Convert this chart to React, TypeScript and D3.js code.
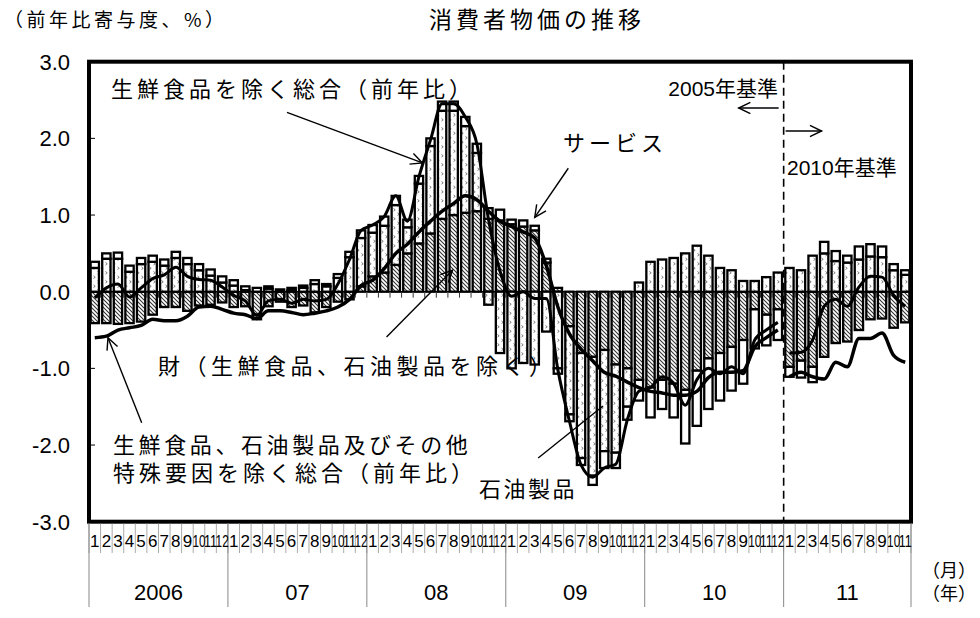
import React from 'react';
import * as d3 from 'd3';

// ---------- data (contributions to y/y change, %) ----------
const years = ['2006', '07', '08', '09', '10', '11'];
const monthsPerYear = [12, 12, 12, 12, 12, 11];
const yTicks = [3, 2, 1, 0, -1, -2, -3];

// 財（生鮮食品、石油製品を除く） hatched
const goods = [
  -0.41, -0.41, -0.42, -0.41, -0.39, -0.3, -0.2, -0.2, -0.25, -0.18, -0.17, -0.14,
  -0.2, -0.19, -0.3, -0.19, -0.13, -0.2, -0.18, -0.27, -0.2, -0.13, -0.1, 0.07,
  0.2, 0.25, 0.35, 0.5, 0.63, 0.76, 0.95, 1.0, 1.03, 1.05, 0.95, 0.93,
  0.88, 0.85, 0.8, 0.38, 0.05, -0.45, -0.8, -0.85, -0.76, -0.95, -1.0, -1.15,
  -1.25, -1.15, -1.2, -1.28, -1.03, -0.87, -0.8, -0.72, -0.63, -0.23, -0.3, -0.23,
  -0.98, -0.9, -0.98, -0.85, -0.67, -0.65, -0.5, -0.36, -0.35, -0.47, -0.4,
];
// 石油製品 dotted
const petroleum = [
  0.31, 0.43, 0.43, 0.26, 0.36, 0.39, 0.34, 0.44, 0.36, 0.28, 0.21, 0.12,
  0.08, 0.02, -0.06, 0.04, 0.0, 0.02, 0.05, 0.1, 0.07, 0.18, 0.45, 0.63,
  0.57, 0.61, 0.78, 0.34, 0.78, 1.14, 1.41, 1.36, 1.13, 0.76, -0.17, -0.8,
  -1.0, -0.93, -0.95, -0.52, -1.0, -1.15, -1.37, -1.55, -1.32, -1.15, -0.5, 0.12,
  0.39, 0.42, 0.44, 0.5, 0.6, 0.47, 0.31, 0.28, 0.14, 0.14, 0.19, 0.25,
  0.31, 0.28, 0.47, 0.5, 0.4, 0.38, 0.42, 0.46, 0.45, 0.28, 0.22,
];
// サービス white
const services = [
  0.08, 0.07, 0.08, 0.08, 0.08, 0.08, 0.08, 0.08, 0.08, 0.08, 0.08, 0.08,
  0.07, 0.05, 0.05, 0.03, 0.03, 0.03, 0.03, 0.05, 0.03, 0.05, 0.07, 0.1,
  0.1, 0.12, 0.12, 0.1, 0.1, 0.1, 0.12, 0.12, 0.12, 0.12, 0.14, 0.14,
  0.06, 0.08, 0.06, 0.05, -0.07, -0.09, -0.09, -0.12, -0.22, -0.2, -0.17, -0.27,
  -0.39, -0.38, -0.44, -0.7, -0.72, -0.66, -0.62, -0.57, -0.57, -0.51, -0.4, -0.4,
  -0.13, -0.22, -0.2, 0.15, 0.13, 0.09, 0.17, 0.16, 0.14, 0.08, 0.06,
];
// 生鮮食品を除く総合（前年比）
const coreCPI = [
  -0.08, 0.05, 0.1, -0.07, 0.05, 0.17, 0.22, 0.32, 0.2, 0.16, 0.15, 0.06,
  -0.05, -0.12, -0.31, -0.12, -0.1, -0.15, -0.1, -0.12, -0.1, 0.1, 0.42, 0.8,
  0.87, 0.98, 1.25, 0.92, 1.5, 1.98, 2.45, 2.45, 2.28, 1.93, 0.95, 0.27,
  -0.06, 0.0, -0.09, -0.09, -1.02, -1.69, -2.26, -2.42, -2.3, -2.25, -1.67, -1.3,
  -1.25, -1.11, -1.2, -1.48, -1.15, -1.0, -1.07, -0.98, -1.07, -0.63, -0.5, -0.4,
  -0.8, -0.79, -0.63, -0.19, -0.1, -0.19, 0.06, 0.2, 0.19, -0.05, -0.19,
];
// 生鮮食品、石油製品及びその他特殊要因を除く総合（前年比）
const coreCore = [
  -0.6, -0.58, -0.5, -0.47, -0.44, -0.36, -0.38, -0.38, -0.32, -0.2, -0.19, -0.23,
  -0.28, -0.3, -0.35, -0.25, -0.25, -0.27, -0.3, -0.28, -0.25, -0.2, -0.1, 0.08,
  0.15, 0.3, 0.5, 0.62, 0.78, 0.92, 1.05, 1.15, 1.25, 1.2, 1.05, 0.92,
  0.85, 0.78, 0.7, 0.34, -0.2, -0.55, -0.75, -0.9, -1.05, -1.1, -1.18, -1.25,
  -1.3, -1.32, -1.35, -1.35, -1.3, -1.12, -1.05, -1.05, -1.03, -0.72, -0.6, -0.5,
  -1.11, -1.05, -1.11, -1.14, -0.92, -0.98, -0.61, -0.61, -0.54, -0.83, -0.92,
];
const breakIndex = 60; // 2010年基準 starts at 2011/1

const JP = '"Noto Sans CJK JP", "Noto Sans", sans-serif';
const NUM = '"Liberation Sans", Arial, "Noto Sans CJK JP", sans-serif';

export default function App() {
  const W = 980, H = 618;
  const x0 = 89, x1 = 911, yTop = 61.7, yBot = 521.7;
  const n = goods.length;
  const idx = d3.range(n);
  const x = d3.scaleBand<number>().domain(idx).range([x0, x1]).paddingInner(0.28).paddingOuter(0.14);
  const step = (x1 - x0) / n;
  const xc = (i: number) => x0 + step * (i + 0.5);
  const y = d3.scaleLinear().domain([-3, 3]).range([yBot, yTop]);
  const fmt = (t: number) => d3.format('.1f')(t).replace('\u2212', '-');

  const table = idx.map((i) => ({ i, goods: goods[i], petroleum: petroleum[i], services: services[i] }));
  const stack = d3.stack<any>().keys(['goods', 'petroleum', 'services']).offset(d3.stackOffsetDiverging);
  const series = stack(table);
  const fills: Record<string, string> = { goods: 'url(#hatch)', petroleum: 'url(#dots)', services: '#ffffff' };

  const lineGen = d3.line<[number, number]>().x((d) => xc(d[0])).y((d) => y(d[1])).curve(d3.curveMonotoneX);
  const seg = (arr: number[], a: number, b: number) => lineGen(d3.range(a, b).map((i) => [i, arr[i]] as [number, number])) || '';

  const bounds = d3.range(n + 1);
  const yearStarts: number[] = [];
  let acc = 0;
  monthsPerYear.forEach((m) => { yearStarts.push(acc); acc += m; });
  yearStarts.push(acc);

  const monthLabels: { i: number; t: string }[] = [];
  monthsPerYear.forEach((m, yi) => {
    for (let k = 0; k < m; k++) monthLabels.push({ i: yearStarts[yi] + k, t: String(k + 1) });
  });

  const P = (i: number, v: number) => [xc(i), y(v)];
  const arrows = [
    { from: P(16.6, 2.34), to: P(28.3, 1.68), head: true },
    { from: P(40.9, 1.61), to: P(38.0, 0.97), head: true },
    { from: P(25.2, -0.59), to: P(30.9, 0.28), head: true },
    { from: P(4.05, -1.71), to: P(1.14, -0.6), head: true },
    { from: P(38.3, -2.17), to: P(43.9, -1.49), head: false },
  ];
  const headPath = (from: number[], to: number[]) => {
    const ang = Math.atan2(to[1] - from[1], to[0] - from[0]);
    const L = 13, a = 0.45;
    const p1 = [to[0] - L * Math.cos(ang - a), to[1] - L * Math.sin(ang - a)];
    const p2 = [to[0] - L * Math.cos(ang + a), to[1] - L * Math.sin(ang + a)];
    return `M${p1[0]},${p1[1]} L${to[0]},${to[1]} L${p2[0]},${p2[1]}`;
  };

  const xBreak = x0 + step * breakIndex;

  return (
    <svg width={W} height={H} style={{ position: 'absolute', left: 0, top: 0, background: '#fff' }}>
      <defs>
        <pattern id="hatch" width="4" height="4" patternUnits="userSpaceOnUse">
          <rect width="4" height="4" fill="#fff" />
          <path d="M-1,-1 L5,5 M-1,3 L1,5 M3,-1 L5,1" stroke="#333" strokeWidth="1.1" />
        </pattern>
        <pattern id="dots" width="8" height="9" patternUnits="userSpaceOnUse">
          <rect width="8" height="9" fill="#fff" />
          <path d="M1.5,1.5 L3.2,2.8 L1.5,4" stroke="#666" strokeWidth="0.9" fill="none" />
          <path d="M5.5,6 L7.2,7.3 L5.5,8.6" stroke="#666" strokeWidth="0.9" fill="none" />
        </pattern>
      </defs>
      <rect width={W} height={H} fill="#fff" />

      {/* titles */}
      <text x={4} y={27} fontFamily={JP} fontSize={19} letterSpacing={3.5}>（前年比寄与度、%）</text>
      <text x={537} y={28} fontFamily={JP} fontSize={23} letterSpacing={4} textAnchor="middle">消費者物価の推移</text>

      {/* y labels */}
      {yTicks.map((t) => (
        <text key={t} x={70} y={y(t) + 8} fontFamily={NUM} fontSize={22} textAnchor="end">{fmt(t)}</text>
      ))}
      {yTicks.map((t) => (
        <line key={'yt' + t} x1={x0} x2={x0 + 6} y1={y(t)} y2={y(t)} stroke="#000" strokeWidth={1} />
      ))}

      {/* zero axis with month ticks */}
      <line x1={x0} x2={x1} y1={y(0)} y2={y(0)} stroke="#000" strokeWidth={1.2} />
      {bounds.map((k) => (
        <line key={'zt' + k} x1={x0 + k * step} x2={x0 + k * step} y1={y(0)} y2={y(0) + 6} stroke="#000" strokeWidth={0.8} />
      ))}

      {/* bars */}
      {series.map((s) => (
        <g key={s.key}>
          {s.map((d, j) => {
            const top = y(Math.max(d[0], d[1]));
            const bot = y(Math.min(d[0], d[1]));
            if (bot - top < 0.01) return null;
            return (
              <rect key={j} x={x(j)} y={top} width={x.bandwidth()} height={bot - top}
                fill={fills[s.key]} stroke="#000" strokeWidth={2.3} />
            );
          })}
        </g>
      ))}

      {/* lines */}
      <path d={seg(coreCore, 0, breakIndex)} fill="none" stroke="#000" strokeWidth={3.5} strokeLinejoin="round" />
      <path d={seg(coreCore, breakIndex, n)} fill="none" stroke="#000" strokeWidth={3.5} strokeLinejoin="round" />
      <path d={seg(coreCPI, 0, breakIndex)} fill="none" stroke="#000" strokeWidth={3} strokeLinejoin="round" />
      <path d={seg(coreCPI, breakIndex, n)} fill="none" stroke="#000" strokeWidth={3} strokeLinejoin="round" />

      {/* base change */}
      <line x1={xBreak} x2={xBreak} y1={yTop} y2={yBot} stroke="#000" strokeWidth={1.6} strokeDasharray="8,5" />
      <text x={778} y={96} fontFamily={NUM} fontSize={21} textAnchor="end">2005年基準</text>
      <path d={`M${xBreak - 5},108 L${xBreak - 45},108`} stroke="#000" strokeWidth={1.4} fill="none" />
      <path d={headPath([xBreak - 5, 108], [xBreak - 45, 108])} stroke="#000" strokeWidth={1.4} fill="none" />
      <path d={`M${xBreak + 2},131 L${xBreak + 38},131`} stroke="#000" strokeWidth={1.4} fill="none" />
      <path d={headPath([xBreak + 2, 131], [xBreak + 38, 131])} stroke="#000" strokeWidth={1.4} fill="none" />
      <text x={787} y={175} fontFamily={NUM} fontSize={21}>2010年基準</text>

      {/* annotations */}
      <text x={111} y={97} fontFamily={JP} fontSize={22} letterSpacing={4}>生鮮食品を除く総合（前年比）</text>
      <text x={563} y={151} fontFamily={JP} fontSize={22} letterSpacing={4}>サービス</text>
      <text x={158} y={374} fontFamily={JP} fontSize={22} letterSpacing={4.5}>財（生鮮食品、石油製品を除く）</text>
      <text x={113} y={453} fontFamily={JP} fontSize={22} letterSpacing={3.6}>生鮮食品、石油製品及びその他</text>
      <text x={113} y={481} fontFamily={JP} fontSize={22} letterSpacing={4}>特殊要因を除く総合（前年比）</text>
      <text x={479} y={497} fontFamily={JP} fontSize={22} letterSpacing={2.5}>石油製品</text>
      {arrows.map((a, k) => (
        <g key={'ar' + k}>
          <line x1={a.from[0]} y1={a.from[1]} x2={a.to[0]} y2={a.to[1]} stroke="#000" strokeWidth={1.4} />
          {a.head && <path d={headPath(a.from, a.to)} stroke="#000" strokeWidth={1.4} fill="none" />}
        </g>
      ))}

      {/* frame */}
      <rect x={x0} y={yTop} width={x1 - x0} height={yBot - yTop} fill="none" stroke="#000" strokeWidth={4} />

      {/* x axis below */}
      {bounds.map((k) => (
        <line key={'mb' + k} x1={x0 + k * step} x2={x0 + k * step} y1={yBot + 2} y2={553} stroke="#aaa" strokeWidth={1} />
      ))}
      {yearStarts.map((k) => (
        <line key={'yb' + k} x1={x0 + k * step} x2={x0 + k * step} y1={yBot + 2} y2={607} stroke="#888" strokeWidth={1} />
      ))}
      {monthLabels.map((m) => (
        m.t.length > 1 ? (
          <text key={'ml' + m.i} x={xc(m.i)} y={547} fontFamily={NUM} fontSize={17} textAnchor="middle"
            textLength={step + 1.5} lengthAdjust="spacingAndGlyphs">{m.t}</text>
        ) : (
          <text key={'ml' + m.i} x={xc(m.i)} y={547} fontFamily={NUM} fontSize={17} textAnchor="middle">{m.t}</text>
        )
      ))}
      {years.map((t, yi) => (
        <text key={'yl' + t} x={(x0 + step * (yearStarts[yi] + yearStarts[yi + 1]) / 2)} y={600}
          fontFamily={NUM} fontSize={22} textAnchor="middle">{t}</text>
      ))}
      <text x={922} y={577} fontFamily={JP} fontSize={18}>（月）</text>
      <text x={922} y={600} fontFamily={JP} fontSize={18}>（年）</text>
    </svg>
  );
}
